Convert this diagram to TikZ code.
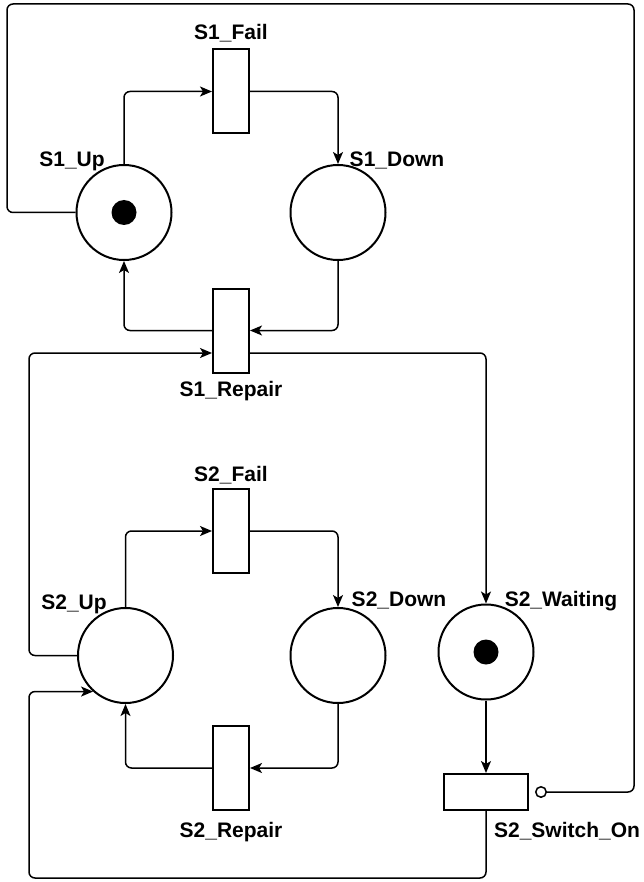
\documentclass[tikz,border=0pt]{standalone}
\usepackage{fontspec}
\setmainfont{Liberation Sans}
\usetikzlibrary{arrows.meta}
\begin{document}
\begin{tikzpicture}[x=1pt,y=-1pt,
  place/.style={circle,draw,line width=2pt,minimum size=95pt,inner sep=0pt},
  trans/.style={rectangle,draw,line width=2pt,minimum width=36pt,minimum height=84pt,inner sep=0pt},
  htrans/.style={rectangle,draw,line width=2pt,minimum width=84pt,minimum height=36pt,inner sep=0pt},
  token/.style={circle,fill=black,minimum size=25pt,inner sep=0pt},
  lbl/.style={anchor=base,inner sep=0pt,font=\fontsize{21}{24}\selectfont\bfseries},
  conn/.style={line width=1.5pt,rounded corners=6pt,-{Stealth[length=12pt,width=10pt,inset=3pt]}},
  inhib/.style={line width=1.5pt,rounded corners=6pt,-{Circle[open,length=12pt,width=12pt,line width=1.5pt]},shorten >=6pt}]
\useasboundingbox (0,0) rectangle (644,882);
% places
\node[place] (s1up) at (124,212.5) {};
\node[place] (s1down) at (338,212.5) {};
\node[place] (s2up) at (125.5,655.5) {};
\node[place] (s2down) at (338,655.5) {};
\node[place] (s2wait) at (486,652) {};
\node[token] (tk1) at (s1up) {};
\node[token] (tk2) at (s2wait) {};
% transitions
\node[trans] (s1fail) at (231,91.5) {};
\node[trans] (s1rep) at (231,330.5) {};
\node[trans] (s2fail) at (231,531) {};
\node[trans] (s2rep) at (231,768) {};
\node[htrans] (sw) at (486,792) {};
% labels
\node[lbl] (l1) at (231,40) {S1\_Fail};
\node[lbl] (l2) at (72,167) {S1\_Up};
\node[lbl] (l3) at (397,167) {S1\_Down};
\node[lbl] (l4) at (231,396) {S1\_Repair};
\node[lbl] (l5) at (231,481) {S2\_Fail};
\node[lbl] (l6) at (74,609) {S2\_Up};
\node[lbl] (l7) at (399,606) {S2\_Down};
\node[lbl] (l8) at (561,606) {S2\_Waiting};
\node[lbl] (l9) at (231,837) {S2\_Repair};
\node[lbl] (l10) at (567,837) {S2\_Switch\_On};
% helper coordinates
\coordinate (s1repin) at ([yshift=-22.5pt]s1rep.west);
\coordinate (s1repout) at ([yshift=-22.5pt]s1rep.east);
\coordinate (L1) at (29,0);
\coordinate (L2) at (29,878);
\coordinate (TL) at (7,4);
\coordinate (TR) at (634,4);
% arcs
\draw[conn] (s1up.north) |- (s1fail.west);
\draw[conn] (s1fail.east) -| (s1down.north);
\draw[conn] (s1down.south) |- (s1rep.east);
\draw[conn] (s1rep.west) -| (s1up.south);
\draw[conn] (s2up.west) -| (s1repin -| L1) -- (s1repin);
\draw[conn] (s1repout) -| (s2wait.north);
\draw[conn] (s2up.north) |- (s2fail.west);
\draw[conn] (s2fail.east) -| (s2down.north);
\draw[conn] (s2down.south) |- (s2rep.east);
\draw[conn] (s2rep.west) -| (s2up.south);
\draw[conn] (s2wait.south) -- (sw.north);
\draw[conn] (sw.south) |- (L2) |- (s2up.228);
\draw[inhib] (s1up.west) -| (TL) -| (TR |- sw.east) -- (sw.east);
\end{tikzpicture}
\end{document}
